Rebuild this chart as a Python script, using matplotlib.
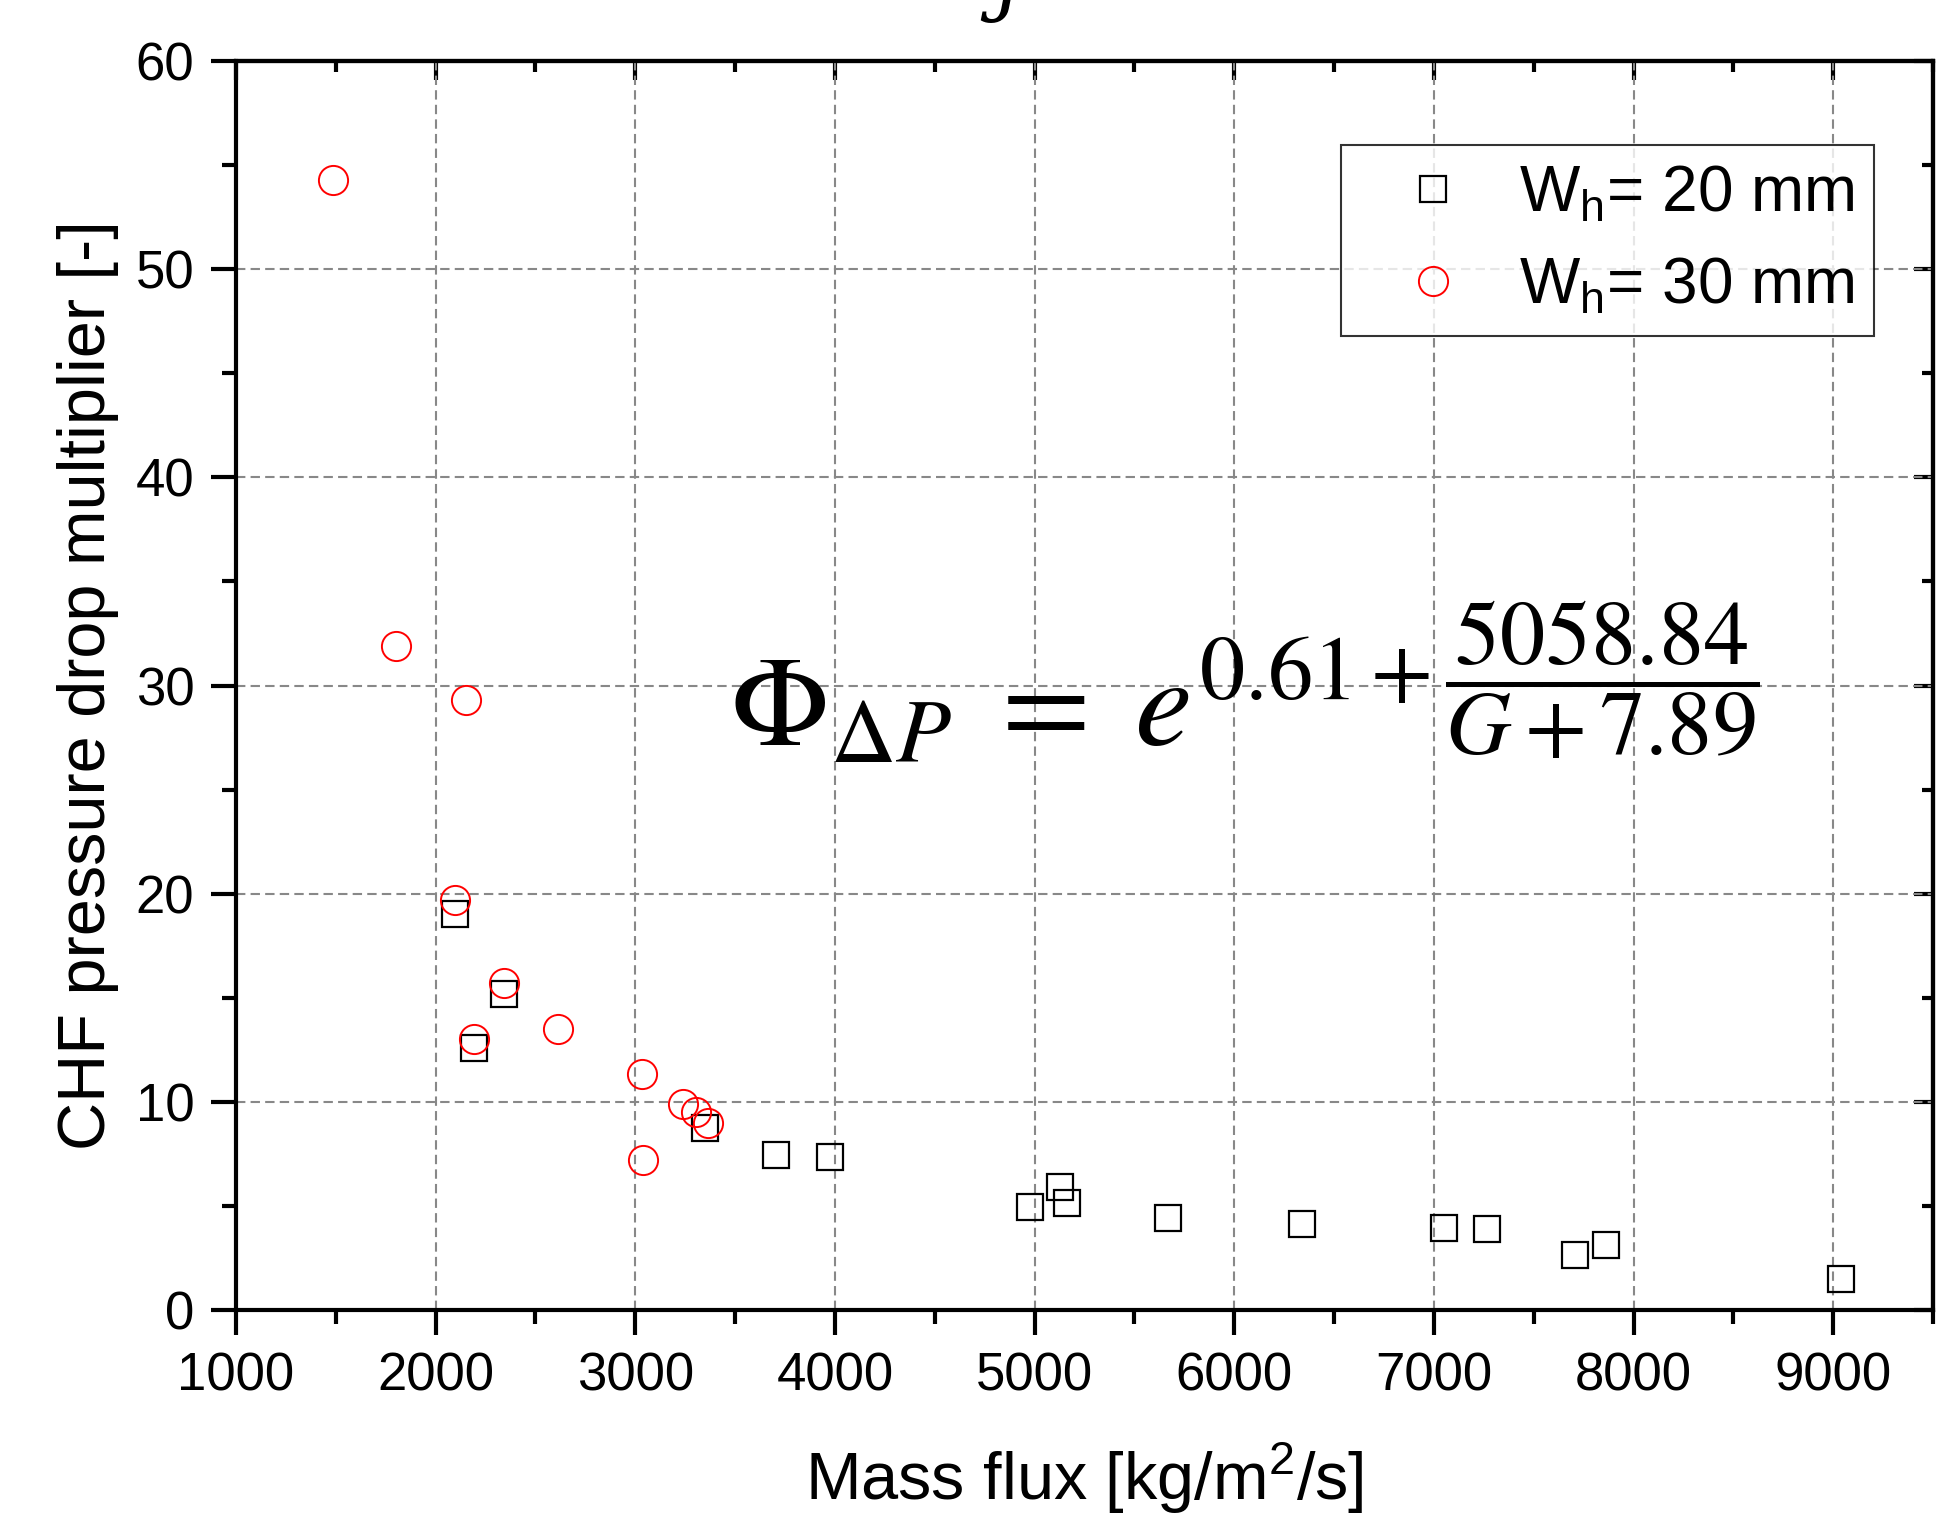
import matplotlib
matplotlib.use("Agg")
import matplotlib.pyplot as plt
from matplotlib.ticker import MultipleLocator

plt.rcParams['font.family'] = ['Liberation Sans', 'DejaVu Sans']
plt.rcParams['mathtext.fontset'] = 'custom'
plt.rcParams['mathtext.rm'] = 'Liberation Sans'
plt.rcParams['mathtext.it'] = 'Liberation Sans:italic'

# W_h = 20 mm (squares)
g_20 = [2095, 2195, 2345, 3350, 3705, 3975, 4977, 5129, 5162, 5669,
        6338, 7053, 7268, 7705, 7860, 9040]
phi_20 = [19.0, 12.6, 15.2, 8.75, 7.45, 7.35, 4.97, 5.9, 5.16, 4.44,
          4.13, 3.96, 3.89, 2.63, 3.14, 1.49]

# W_h = 30 mm (circles)
g_30 = [1485, 1800, 2150, 2095, 2345, 2195, 2615, 3035, 3240, 3305, 3365, 3040]
phi_30 = [54.3, 31.9, 29.3, 19.7, 15.7, 13.0, 13.5, 11.35, 9.9, 9.5, 9.0, 7.2]

labels = ['W$_{\\mathrm{h}}$= 20 mm', 'W$_{\\mathrm{h}}$= 30 mm']
xticks = [1000, 2000, 3000, 4000, 5000, 6000, 7000, 8000, 9000]
yticks = [0, 10, 20, 30, 40, 50, 60]

fig = plt.figure(figsize=(19.48, 15.22), dpi=100)
ax = fig.add_axes([0.1211, 0.1393, 0.8712, 0.8206])

ax.plot(g_20, phi_20, linestyle='none', marker='s', markersize=19,
        markerfacecolor='none', markeredgecolor='black', markeredgewidth=1.6,
        label=labels[0], zorder=3)
ax.plot(g_30, phi_30, linestyle='none', marker='o', markersize=21,
        markerfacecolor='none', markeredgecolor='red', markeredgewidth=1.4,
        label=labels[1], zorder=4)

ax.set_xlim(1000, 9500)
ax.set_ylim(0, 60)
ax.set_xticks(xticks)
ax.set_yticks(yticks)
ax.xaxis.set_minor_locator(MultipleLocator(500))
ax.yaxis.set_minor_locator(MultipleLocator(5))

ax.grid(True, which='major', color='#888888', linewidth=1.5,
        linestyle=(0, (4.5, 2.5)))
ax.set_axisbelow(True)

for s in ax.spines.values():
    s.set_linewidth(3)

ax.tick_params(which='major', direction='out', length=18, width=3,
               labelsize=38, pad=12)
ax.tick_params(which='minor', direction='out', length=10, width=3)

# mirrored ticks on top and right, pointing inward
top = ax.secondary_xaxis('top')
top.set_xticks(xticks)
top.xaxis.set_minor_locator(MultipleLocator(500))
top.tick_params(which='major', direction='in', length=14, width=3, labeltop=False)
top.tick_params(which='minor', direction='in', length=8, width=3)
top.spines['top'].set_linewidth(3)
right = ax.secondary_yaxis('right')
right.set_yticks(yticks)
right.yaxis.set_minor_locator(MultipleLocator(5))
right.tick_params(which='major', direction='in', length=14, width=3, labelright=False)
right.tick_params(which='minor', direction='in', length=8, width=3)
right.spines['right'].set_linewidth(3)

ax.set_xlabel('Mass flux [kg/m$^{\\mathrm{2}}$/s]', fontsize=48, labelpad=28)
ax.set_ylabel('CHF pressure drop multiplier [-]', fontsize=48, labelpad=12)

leg = fig.legend(loc='upper right', bbox_to_anchor=(0.9620, 0.9047),
                 bbox_transform=fig.transFigure, fontsize=46, frameon=True,
                 fancybox=False, edgecolor='black', borderaxespad=0,
                 handlelength=2.3, handletextpad=0.2, borderpad=0.3,
                 labelspacing=0.5, markerscale=1.0)
leg.get_frame().set_linewidth(1.5)

fig.text(0.3745, 0.5105,
         r'$\Phi_{\Delta P}\;=\;e^{0.61+\dfrac{5058.84}{G+7.89}}$',
         fontsize=93, math_fontfamily='stix', va='baseline', ha='left')

# fragment of a caption cut off at the top edge
fig.text(0.5175, 0.997, 'j', fontsize=60, fontstyle='italic',
         family='DejaVu Serif', va='baseline', ha='center')

fig.savefig('out.png', dpi=100)
